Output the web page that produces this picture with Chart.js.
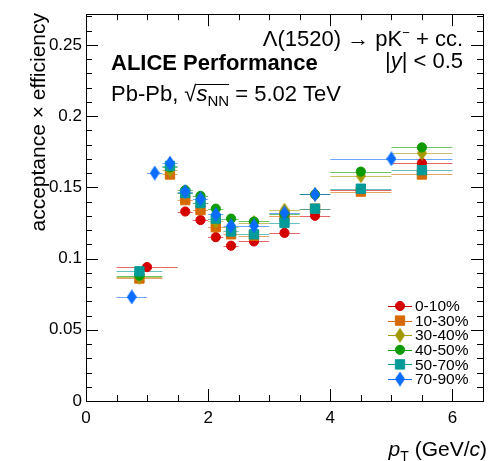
<!DOCTYPE html>
<html>
<head>
<meta charset="utf-8">
<style>
  html, body { margin: 0; padding: 0; background: #fff; }
</style>
<script src="https://cdn.jsdelivr.net/npm/chart.js@4.4.0/dist/chart.umd.min.js"></script>
</head>
<body>
<canvas id="chart" width="491" height="461"></canvas>
<script>
// centrality classes and colours
const classes = ['0-10%', '10-30%', '30-40%', '40-50%', '50-70%', '70-90%'];
const colors = ['#d40000', '#d66a00', '#a29a00', '#0c9a00', '#009a98', '#0a6dff'];
const shapes = ['circle', 'rect', 'diamond', 'circle', 'rect', 'diamond'];

// pT bin edges (GeV/c)
const edgesCentral = [0.5, 1.5, 1.75, 2.0, 2.25, 2.5, 3.0, 3.5, 4.0, 5.0, 6.0];
const edgesMid = [0.5, 1.25, 1.5, 1.75, 2.0, 2.25, 2.5, 3.0, 3.5, 4.0, 5.0, 6.0];
const edgesPeriph = [0.5, 1.0, 1.25, 1.5, 1.75, 2.0, 2.25, 2.5, 3.0, 3.5, 4.0, 6.0];

// acceptance x efficiency per class
const eff0010 = [0.094, 0.133, 0.127, 0.115, 0.109, 0.112, 0.118, 0.130, 0.148, 0.167];
const eff1030 = [0.086, 0.159, 0.141, 0.134, 0.122, 0.117, 0.116, 0.130, 0.135, 0.147, 0.159];
const eff3040 = [0.087, 0.162, 0.146, 0.139, 0.126, 0.122, 0.125, 0.134, 0.145, 0.158, 0.174];
const eff4050 = [0.088, 0.164, 0.148, 0.144, 0.135, 0.128, 0.126, 0.131, 0.145, 0.161, 0.178];
const eff5070 = [0.091, 0.165, 0.146, 0.139, 0.128, 0.119, 0.117, 0.125, 0.135, 0.149, 0.162];
const eff7090 = [0.073, 0.160, 0.167, 0.147, 0.142, 0.131, 0.123, 0.123, 0.132, 0.145, 0.170];

const xTicks = [0, 2, 4, 6];
const yTicks = [0, 0.05, 0.1, 0.15, 0.2, 0.25];

const FONT = "'Liberation Sans', Arial, Helvetica, sans-serif";

// elongated diamond marker
function diamond(color, w, h) {
  const c = document.createElement('canvas');
  c.width = w; c.height = h;
  const g = c.getContext('2d');
  g.fillStyle = color;
  g.beginPath();
  g.moveTo(w / 2, 0); g.lineTo(w, h / 2); g.lineTo(w / 2, h); g.lineTo(0, h / 2);
  g.closePath(); g.fill();
  return c;
}

function markerOpts(i) {
  const s = shapes[i];
  if (s === 'circle') return { pointStyle: 'circle', radius: 4.6 };
  if (s === 'rect') return { pointStyle: 'rect', radius: 6.6 };
  return { pointStyle: diamond(colors[i], 10, 15), radius: 7 };
}

function makePoints(edges, vals) {
  return vals.map((v, i) => ({ x: (edges[i] + edges[i + 1]) / 2, y: v, lo: edges[i], hi: edges[i + 1] }));
}

const series = [
  makePoints(edgesCentral, eff0010),
  makePoints(edgesMid, eff1030),
  makePoints(edgesMid, eff3040),
  makePoints(edgesMid, eff4050),
  makePoints(edgesMid, eff5070),
  makePoints(edgesPeriph, eff7090),
];

const datasets = series.map((pts, i) => {
  const m = markerOpts(i);
  return {
    label: classes[i],
    data: pts,
    showLine: false,
    pointStyle: m.pointStyle,
    pointRadius: m.radius,
    pointHoverRadius: m.radius,
    pointBorderWidth: 1,
    backgroundColor: colors[i],
    borderColor: colors[i],
    order: 6 - i,
  };
});

// horizontal bin-width bars
const binBars = {
  id: 'binBars',
  beforeDatasetsDraw(chart) {
    const { ctx, scales: { x, y } } = chart;
    ctx.save();
    ctx.lineWidth = 1;
    chart.data.datasets.forEach((ds, i) => {
      ctx.strokeStyle = colors[i];
      ctx.globalAlpha = 0.6;
      ds.data.forEach(p => {
        const py = Math.round(y.getPixelForValue(p.y)) + 0.5;
        ctx.beginPath();
        ctx.moveTo(x.getPixelForValue(p.lo), py);
        ctx.lineTo(x.getPixelForValue(p.hi), py);
        ctx.stroke();
      });
    });
    ctx.restore();
  }
};

// ROOT style frame with inward ticks
const frame = {
  id: 'frame',
  afterDatasetsDraw(chart) {
    const { ctx, chartArea: a, scales: { x, y } } = chart;
    ctx.save();
    ctx.strokeStyle = '#000';
    ctx.lineWidth = 1;
    ctx.strokeRect(Math.round(a.left) + 0.5, Math.round(a.top) + 0.5,
      Math.round(a.right - a.left), Math.round(a.bottom - a.top));
    ctx.beginPath();
    for (let k = 0; k <= 13; k++) {
      const v = k * 0.5;
      const px = Math.round(x.getPixelForValue(v)) + 0.5;
      const len = (k % 4 === 0) ? 12 : 6;
      ctx.moveTo(px, a.bottom); ctx.lineTo(px, a.bottom - len);
      ctx.moveTo(px, a.top); ctx.lineTo(px, a.top + len);
    }
    for (let k = 0; k <= 27; k++) {
      const v = k * 0.01;
      const py = Math.round(y.getPixelForValue(v)) + 0.5;
      const len = (k % 5 === 0) ? 12 : 6;
      ctx.moveTo(a.left, py); ctx.lineTo(a.left + len, py);
      ctx.moveTo(a.right, py); ctx.lineTo(a.right - len, py);
    }
    ctx.stroke();
    ctx.restore();
  }
};

// draw a run of text pieces, returns piece extents
function runText(ctx, pieces, x, yb, align) {
  let w = 0;
  pieces.forEach(p => { ctx.font = p.font; w += ctx.measureText(p.t).width; });
  let cx = align === 'right' ? x - w : x;
  const pos = [];
  pieces.forEach(p => {
    ctx.font = p.font;
    ctx.fillText(p.t, cx, yb + (p.dy || 0));
    const pw = ctx.measureText(p.t).width;
    pos.push([cx, cx + pw]);
    cx += pw;
  });
  return pos;
}

const texts = {
  id: 'texts',
  afterDraw(chart) {
    const { ctx } = chart;
    ctx.save();
    ctx.fillStyle = '#000';
    ctx.textAlign = 'left';
    ctx.textBaseline = 'alphabetic';

    const reg = '22px ' + FONT;
    const it = 'italic 22px ' + FONT;
    const small = '15px ' + FONT;

    runText(ctx, [
      { t: 'Λ(1520) → pK', font: reg },
      { t: '−', font: '13px ' + FONT, dy: -9 },
      { t: ' + cc.', font: reg },
    ], 463, 46, 'right');
    runText(ctx, [
      { t: '|', font: reg },
      { t: 'y', font: it },
      { t: '| < 0.5', font: reg },
    ], 463, 68, 'right');

    ctx.font = 'bold 22px ' + FONT;
    ctx.fillText('ALICE Performance', 111, 70);

    const pos = runText(ctx, [
      { t: 'Pb-Pb, ', font: reg },
      { t: '√', font: reg },
      { t: 's', font: it },
      { t: 'NN', font: small, dy: 5 },
      { t: ' = 5.02 TeV', font: reg },
    ], 111, 101, 'left');
    ctx.beginPath();
    ctx.lineWidth = 1;
    ctx.moveTo(pos[1][1] - 1, 84.5);
    ctx.lineTo(pos[3][1], 84.5);
    ctx.stroke();

    // axis titles
    runText(ctx, [
      { t: 'p', font: 'italic 21px ' + FONT },
      { t: 'T', font: '14px ' + FONT, dy: 5 },
      { t: ' (GeV/', font: '21px ' + FONT },
      { t: 'c', font: 'italic 21px ' + FONT },
      { t: ')', font: '21px ' + FONT },
    ], 487, 456, 'right');

    ctx.save();
    ctx.translate(45, 13);
    ctx.rotate(-Math.PI / 2);
    ctx.textAlign = 'right';
    ctx.font = '21px ' + FONT;
    ctx.fillText('acceptance × efficiency', 0, 0);
    ctx.restore();

    // legend
    classes.forEach((c, i) => {
      const ly = 306 + i * 14.6;
      ctx.strokeStyle = colors[i];
      ctx.fillStyle = colors[i];
      ctx.lineWidth = 1;
      ctx.beginPath();
      ctx.moveTo(388, Math.round(ly) + 0.5);
      ctx.lineTo(412, Math.round(ly) + 0.5);
      ctx.stroke();
      const m = markerOpts(i);
      Chart.helpers.drawPoint(ctx, { pointStyle: m.pointStyle, radius: m.radius, rotation: 0, borderWidth: 1 }, 400, ly);
      ctx.fillStyle = '#000';
      ctx.font = '15.5px ' + FONT;
      ctx.textBaseline = 'middle';
      ctx.fillText(c, 415, ly + 1);
      ctx.textBaseline = 'alphabetic';
    });
    ctx.restore();
  }
};

new Chart(document.getElementById('chart'), {
  type: 'scatter',
  data: { datasets },
  options: {
    responsive: false,
    devicePixelRatio: 1,
    animation: false,
    layout: { padding: { top: 10, right: 4, left: 0, bottom: 0 } },
    plugins: { legend: { display: false }, tooltip: { enabled: false } },
    scales: {
      x: {
        type: 'linear',
        min: 0,
        max: 6.5,
        afterBuildTicks: s => { s.ticks = xTicks.map(v => ({ value: v })); },
        afterFit: s => { s.height = 60; },
        grid: { display: false, drawTicks: false },
        border: { display: false },
        ticks: { color: '#000', font: { family: FONT, size: 17 }, padding: 7, maxRotation: 0 },
      },
      y: {
        type: 'linear',
        min: 0,
        max: 0.2715,
        afterBuildTicks: s => { s.ticks = yTicks.map(v => ({ value: v })); },
        afterFit: s => { s.width = 86; },
        grid: { display: false, drawTicks: false },
        border: { display: false },
        ticks: { color: '#000', font: { family: FONT, size: 17 }, padding: 4, callback: v => String(v) },
      },
    },
  },
  plugins: [binBars, frame, texts],
});
</script>
</body>
</html>
